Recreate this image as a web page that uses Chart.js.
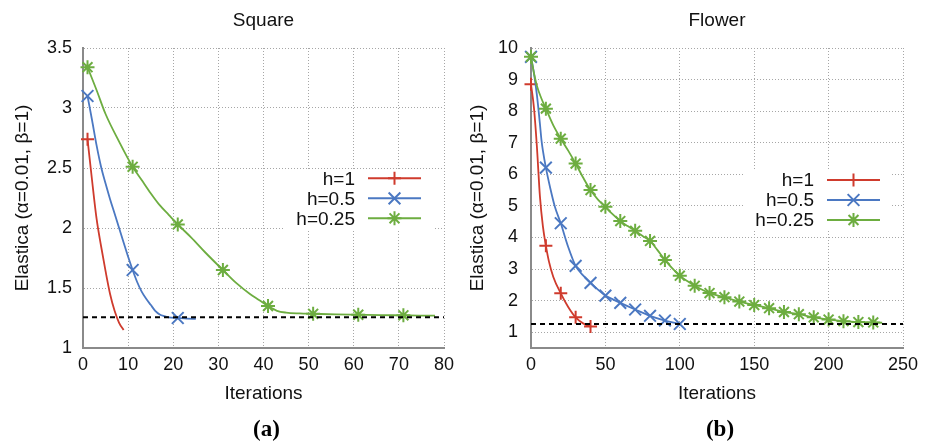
<!DOCTYPE html>
<html><head><meta charset="utf-8">
<script src="https://cdn.jsdelivr.net/npm/chart.js@4/dist/chart.umd.min.js"></script>
<style>
html,body{margin:0;padding:0;background:#fff;}
#wrap{position:relative;width:933px;height:444px;overflow:hidden;background:#fff;}
canvas{position:absolute;top:0;}
</style></head><body>
<div id="wrap">
<canvas id="c1" width="466" height="444" style="left:0"></canvas>
<canvas id="c2" width="467" height="444" style="left:466px"></canvas>
</div>
<script>
// ---------- shared ----------
const seriesLabels = ['h=1', 'h=0.5', 'h=0.25'];
const seriesColors = ['#cf3b2d', '#4b78c2', '#6dad40'];
const seriesMarkers = ['cross', 'crossRot', 'star'];
const xAxisTitle = 'Iterations';
const yAxisTitle = 'Elastica (α=0.01, β=1)';

// ---------- (a) Square ----------
const squareTitle = 'Square';
const squareCaption = '(a)';
const squareXTicks = [0, 10, 20, 30, 40, 50, 60, 70, 80];
const squareYTicks = [1, 1.5, 2, 2.5, 3, 3.5];
const squareRef = 1.256;
const sqIterH1 = [1, 2, 3, 4, 5, 6, 7, 8, 9];
const sqValH1  = [2.74, 2.40, 2.08, 1.85, 1.64, 1.45, 1.31, 1.21, 1.15];
const sqMarkH1 = [1];
const sqIterH05 = [1, 2, 3, 4, 5, 6, 7, 8, 9, 10, 11, 12, 13, 14, 15, 16, 17, 18, 19, 21, 23, 25];
const sqValH05  = [3.10, 2.90, 2.69, 2.51, 2.37, 2.24, 2.12, 2.00, 1.88, 1.76, 1.65, 1.55, 1.47, 1.41, 1.36, 1.31, 1.28, 1.265, 1.255, 1.25, 1.245, 1.242];
const sqMarkH05 = [1, 11, 21];
const sqIterH025 = [1, 3, 5, 8, 11, 13, 15, 17, 19, 21, 24, 27, 31, 34, 37, 39, 41, 43, 45, 48, 51, 56, 61, 66, 71, 75, 78];
const sqValH025  = [3.34, 3.15, 2.95, 2.72, 2.51, 2.40, 2.29, 2.19, 2.11, 2.03, 1.92, 1.80, 1.65, 1.54, 1.45, 1.40, 1.35, 1.31, 1.295, 1.288, 1.285, 1.28, 1.277, 1.274, 1.272, 1.27, 1.27];
const sqMarkH025 = [1, 11, 21, 31, 41, 51, 61, 71];

// ---------- (b) Flower ----------
const flowerTitle = 'Flower';
const flowerCaption = '(b)';
const flowerXTicks = [0, 50, 100, 150, 200, 250];
const flowerYTicks = [1, 2, 3, 4, 5, 6, 7, 8, 9, 10];
const flowerRef = 1.26;
const flIterH1 = [0, 2, 4, 6, 8, 10, 12, 15, 20, 25, 30, 35, 40];
const flValH1  = [8.85, 8.1, 6.85, 5.3, 4.35, 3.74, 3.25, 2.75, 2.23, 1.80, 1.47, 1.28, 1.18];
const flMarkH1 = [0, 10, 20, 30, 40];
const flIterH05 = [0, 2, 4, 6, 7, 8, 10, 13, 16, 20, 25, 30, 35, 40, 45, 50, 55, 60, 70, 80, 90, 100];
const flValH05  = [9.72, 9.2, 8.5, 7.6, 7.1, 6.75, 6.21, 5.55, 4.98, 4.45, 3.70, 3.10, 2.80, 2.56, 2.35, 2.16, 2.04, 1.93, 1.72, 1.52, 1.37, 1.26];
const flMarkH05 = [0, 10, 20, 30, 40, 50, 60, 70, 80, 90, 100];
const flIterH025 = [0, 2, 4, 7, 10, 15, 20, 25, 30, 35, 40, 45, 50, 55, 60, 65, 70, 75, 80, 85, 90, 95, 100, 105, 110, 120, 130, 140, 150, 160, 170, 180, 190, 200, 210, 220, 230, 236];
const flValH025  = [9.72, 9.2, 8.8, 8.4, 8.08, 7.55, 7.13, 6.75, 6.34, 5.9, 5.5, 5.2, 4.97, 4.73, 4.52, 4.36, 4.21, 4.05, 3.89, 3.6, 3.29, 3.02, 2.79, 2.62, 2.47, 2.24, 2.11, 1.97, 1.86, 1.76, 1.64, 1.57, 1.47, 1.40, 1.35, 1.32, 1.31, 1.30];
const flMarkH025 = [0, 10, 20, 30, 40, 50, 60, 70, 80, 90, 100, 110, 120, 130, 140, 150, 160, 170, 180, 190, 200, 210, 220, 230];

// ---------- styling ----------
const FONT = '"Liberation Sans", Arial, Helvetica, sans-serif';
const markerRadius = {cross: 6.5, crossRot: 8.3, star: 7};

function drawMarker(ctx, style, x, y, r) {
  ctx.beginPath();
  if (style === 'cross' || style === 'star') {
    ctx.moveTo(x - r, y); ctx.lineTo(x + r, y);
    ctx.moveTo(x, y - r); ctx.lineTo(x, y + r);
  }
  if (style === 'crossRot' || style === 'star') {
    const d = r * Math.SQRT1_2;
    ctx.moveTo(x - d, y - d); ctx.lineTo(x + d, y + d);
    ctx.moveTo(x - d, y + d); ctx.lineTo(x + d, y - d);
  }
  ctx.stroke();
}

function makeSeries(iters, vals, marks, k) {
  const style = seriesMarkers[k];
  return {
    label: seriesLabels[k],
    data: iters.map((x, i) => ({x: x, y: vals[i]})),
    borderColor: seriesColors[k],
    backgroundColor: seriesColors[k],
    borderWidth: 1.8,
    pointStyle: style,
    pointBorderColor: seriesColors[k],
    pointBorderWidth: 2,
    pointRadius: (c) => (c.raw && marks.includes(c.raw.x)) ? markerRadius[style] : 0,
    cubicInterpolationMode: 'monotone',
    fill: false,
    clip: 14,
    order: 3 - k
  };
}

function makeChart(canvasId, o) {
  const deco = {
    id: 'deco' + canvasId,
    beforeDatasetsDraw(chart) {
      const ctx = chart.ctx;
      const L = o.legend;
      ctx.save();
      ctx.fillStyle = '#fff';
      ctx.fillRect(L.boxL, L.boxT, L.boxR - L.boxL, L.boxB - L.boxT);
      ctx.font = '19px ' + FONT;
      ctx.textAlign = 'right';
      ctx.textBaseline = 'middle';
      seriesLabels.forEach((lab, k) => {
        const y = L.rows[k];
        ctx.fillStyle = '#111';
        ctx.fillText(lab, L.textR, y + 1);
        ctx.strokeStyle = seriesColors[k];
        ctx.lineWidth = 2;
        ctx.beginPath();
        ctx.moveTo(L.lineL, y); ctx.lineTo(L.lineR, y);
        ctx.stroke();
        drawMarker(ctx, seriesMarkers[k], (L.lineL + L.lineR) / 2, y, markerRadius[seriesMarkers[k]]);
      });
      ctx.restore();
    },
    afterDraw(chart) {
      const ctx = chart.ctx;
      const a = chart.chartArea;
      const cx = (a.left + a.right) / 2;
      ctx.save();
      ctx.fillStyle = '#111';
      ctx.textAlign = 'center';
      ctx.textBaseline = 'alphabetic';
      ctx.font = '19px ' + FONT;
      ctx.fillText(o.title, cx, 26);
      ctx.fillStyle = '#000';
      ctx.font = 'bold 23px "Liberation Serif", "Times New Roman", serif';
      ctx.fillText(o.caption, cx + 3, 436);
      ctx.restore();
    }
  };
  return new Chart(document.getElementById(canvasId), {
    type: 'line',
    data: {datasets: o.datasets.concat([{
      label: 'ref',
      data: [{x: o.xTicks[0], y: o.ref}, {x: o.xTicks[o.xTicks.length - 1], y: o.ref}],
      borderColor: '#000', borderWidth: 2, borderDash: [5, 4],
      pointRadius: 0, fill: false, order: -1
    }])},
    options: {
      responsive: false, animation: false, events: [],
      layout: {padding: {left: 0, top: 48, right: o.padRight, bottom: 0}},
      plugins: {legend: {display: false}, tooltip: {enabled: false}, title: {display: false}},
      scales: {
        x: {
          type: 'linear', min: o.xTicks[0], max: o.xTicks[o.xTicks.length - 1],
          afterBuildTicks: (s) => { s.ticks = o.xTicks.map(v => ({value: v})); },
          afterFit: (s) => { s.height = 96; },
          grid: {color: '#a6a6a6', lineWidth: 1, drawTicks: false},
          border: {display: true, color: '#8a8a8a', width: 2, dash: [1, 2]},
          ticks: {font: {family: FONT, size: 18}, color: '#111', padding: 6.5, maxRotation: 0,
                  callback: (v) => String(v)},
          title: {display: true, text: xAxisTitle, color: '#111', font: {family: FONT, size: 19},
                  padding: {top: 0, bottom: 38.6}}
        },
        y: {
          type: 'linear', min: o.yMin, max: o.yTicks[o.yTicks.length - 1],
          afterBuildTicks: (s) => { s.ticks = o.yTicks.map(v => ({value: v})); },
          afterFit: (s) => { s.width = o.yAxisWidth; },
          grid: {color: '#a6a6a6', lineWidth: 1, drawTicks: false},
          border: {display: true, color: '#8a8a8a', width: 2, dash: [1, 2]},
          ticks: {font: {family: FONT, size: 18}, color: '#111', padding: o.yPad,
                  callback: (v) => String(v)},
          title: {display: true, text: yAxisTitle, color: '#111', font: {family: FONT, size: 19},
                  padding: {top: o.yTitlePad, bottom: 0}}
        }
      }
    },
    plugins: [deco]
  });
}

makeChart('c1', {
  title: squareTitle, caption: squareCaption,
  xTicks: squareXTicks, yTicks: squareYTicks, yMin: 1, ref: squareRef,
  padRight: 22, yAxisWidth: 83, yPad: 11, yTitlePad: 11.5,
  legend: {boxL: 285, boxR: 433, boxT: 169, boxB: 229, textR: 355, lineL: 368, lineR: 421, rows: [178.3, 198.3, 218.3]},
  datasets: [
    makeSeries(sqIterH1, sqValH1, sqMarkH1, 0),
    makeSeries(sqIterH05, sqValH05, sqMarkH05, 1),
    makeSeries(sqIterH025, sqValH025, sqMarkH025, 2)
  ]
});

makeChart('c2', {
  title: flowerTitle, caption: flowerCaption,
  xTicks: flowerXTicks, yTicks: flowerYTicks, yMin: 0.5, ref: flowerRef,
  padRight: 30, yAxisWidth: 65, yPad: 13, yTitlePad: 0.8,
  legend: {boxL: 279, boxR: 426, boxT: 169, boxB: 229, textR: 348, lineL: 361, lineR: 414, rows: [180, 200, 220]},
  datasets: [
    makeSeries(flIterH1, flValH1, flMarkH1, 0),
    makeSeries(flIterH05, flValH05, flMarkH05, 1),
    makeSeries(flIterH025, flValH025, flMarkH025, 2)
  ]
});
</script>
</body></html>
